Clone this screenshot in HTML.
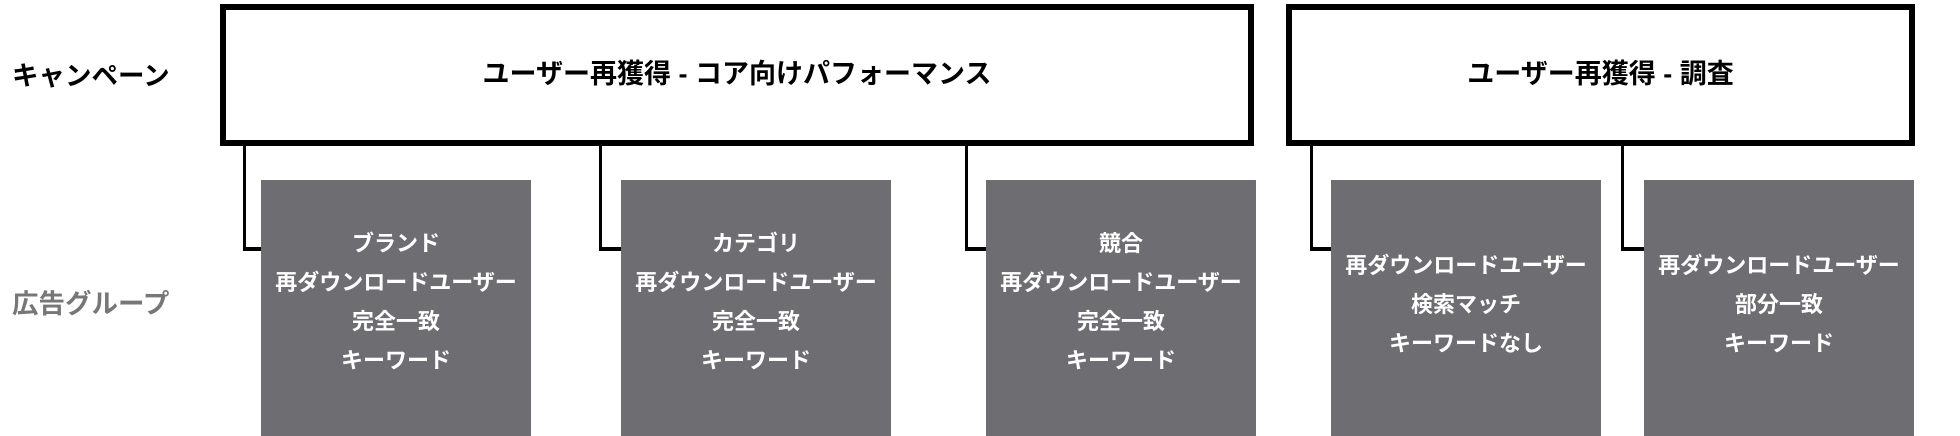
<!DOCTYPE html>
<html><head><meta charset="utf-8"><style>
body{margin:0;width:1960px;height:436px;background:#fff;position:relative;overflow:hidden;font-family:"Liberation Sans","Noto Sans CJK JP",sans-serif;font-weight:bold}
.camp{position:absolute;top:4px;height:130px;border:6px solid #000;display:flex;align-items:center;justify-content:center;font-size:27px;color:#000;box-sizing:content-box;padding-bottom:0}
.camp span{position:relative;top:-4px}
.g{position:absolute;top:180px;height:256px;width:270px;background:#6e6d72;color:#fff;font-size:22px;text-align:center;line-height:39px;box-sizing:border-box}
.v{position:absolute;top:146px;width:3px;height:104px;background:#000}
.h{position:absolute;top:247px;height:4px;background:#000}
.lab{position:absolute;left:12px;font-size:26.5px}
</style></head><body>
<div class="lab" style="top:54px;color:#000">キャンペーン</div>
<div class="lab" style="top:282px;color:#777">広告グループ</div>
<div class="camp" style="left:220px;width:1022px"><span>ユーザー再獲得 - コア向けパフォーマンス</span></div>
<div class="camp" style="left:1286px;width:617px"><span>ユーザー再獲得 - 調査</span></div>

<div class="v" style="left:243px"></div><div class="h" style="left:243px;width:20px"></div>
<div class="v" style="left:599px"></div><div class="h" style="left:599px;width:24px"></div>
<div class="v" style="left:965px"></div><div class="h" style="left:965px;width:23px"></div>
<div class="v" style="left:1310px"></div><div class="h" style="left:1310px;width:23px"></div>
<div class="v" style="left:1621px"></div><div class="h" style="left:1621px;width:25px"></div>

<div class="g" style="left:261px;padding-top:44px">ブランド<br>再ダウンロードユーザー<br>完全一致<br>キーワード</div>
<div class="g" style="left:621px;padding-top:44px">カテゴリ<br>再ダウンロードユーザー<br>完全一致<br>キーワード</div>
<div class="g" style="left:986px;padding-top:44px">競合<br>再ダウンロードユーザー<br>完全一致<br>キーワード</div>
<div class="g" style="left:1331px;padding-top:66px">再ダウンロードユーザー<br>検索マッチ<br>キーワードなし</div>
<div class="g" style="left:1644px;padding-top:66px">再ダウンロードユーザー<br>部分一致<br>キーワード</div>
</body></html>
